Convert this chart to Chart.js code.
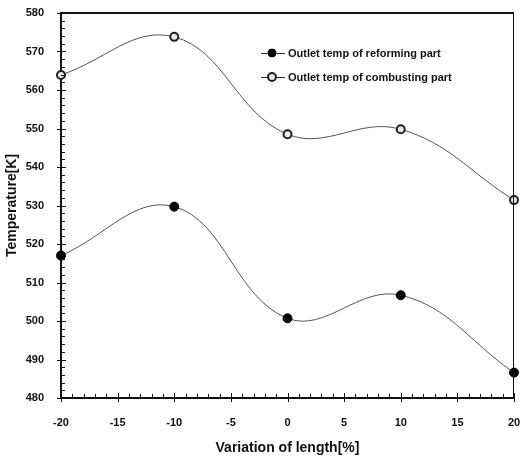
<!DOCTYPE html>
<html>
<head>
<meta charset="utf-8">
<script src="https://cdn.jsdelivr.net/npm/chart.js@4.4.0/dist/chart.umd.min.js"></script>
<style>
  html, body { margin: 0; padding: 0; background: #fff; }
  #wrap { width: 520px; height: 461px; }
</style>
</head>
<body>
<div id="wrap"><canvas id="line-chart"></canvas></div>
<script>
const lengthVariation = [-20, -10, 0, 10, 20]
const reformingTemp = [517, 529.7, 500.7, 506.7, 486.6]
const combustingTemp = [563.9, 573.8, 548.5, 549.8, 531.4]
const seriesLabels = ['Outlet temp of reforming part', 'Outlet temp of combusting part']

const FONT = '"Liberation Sans Narrow", "Liberation Sans", Arial, sans-serif'

function toPoints (ys) {
  return lengthVariation.map(function (x, i) { return { x: x, y: ys[i] } })
}

// minor/major ticks, frame and legend drawn over the chart
const decorPlugin = {
  id: 'decor',
  afterDraw: function (chart) {
    const c = chart.ctx
    const a = chart.chartArea
    const xs = chart.scales.x
    const ys = chart.scales.y
    c.save()
    c.strokeStyle = '#111'
    // frame top and right
    c.lineWidth = 2
    c.beginPath()
    c.moveTo(a.left, a.top)
    c.lineTo(a.right, a.top)
    c.stroke()
    c.lineWidth = 1
    c.beginPath()
    c.moveTo(a.right - 0.5, a.top)
    c.lineTo(a.right - 0.5, a.bottom)
    c.stroke()
    // y ticks
    c.beginPath()
    for (let v = 480; v <= 580; v += 2) {
      const py = Math.round(ys.getPixelForValue(v)) + 0.5
      if (v % 10 === 0) {
        c.moveTo(a.left - 4, py)
        c.lineTo(a.left + 5, py)
      } else {
        c.moveTo(a.left, py)
        c.lineTo(a.left + 4, py)
      }
    }
    // x ticks
    for (let v = -20; v <= 20; v += 1) {
      const px = Math.round(xs.getPixelForValue(v)) + 0.5
      if (v % 5 === 0) {
        c.moveTo(px, a.bottom + 4)
        c.lineTo(px, a.bottom - 5)
      } else {
        c.moveTo(px, a.bottom)
        c.lineTo(px, a.bottom - 4)
      }
    }
    c.stroke()

    // legend
    const rows = [53, 77]
    chart.data.datasets.forEach(function (ds, i) {
      const y = rows[i]
      c.strokeStyle = '#333'
      c.lineWidth = 1
      c.beginPath()
      c.moveTo(261, y + 0.5)
      c.lineTo(285, y + 0.5)
      c.stroke()
      c.beginPath()
      c.arc(272, y, 4, 0, Math.PI * 2)
      c.fillStyle = ds.pointBackgroundColor
      c.fill()
      c.lineWidth = ds.pointBorderWidth
      c.strokeStyle = ds.pointBorderColor
      c.stroke()
      c.fillStyle = '#111'
      c.font = 'bold 11px ' + FONT
      c.textBaseline = 'middle'
      c.textAlign = 'left'
      c.fillText(ds.label, 288, y + 1)
    })
    c.restore()
  },
}

const datasets = [
  {
    label: seriesLabels[0],
    data: toPoints(reformingTemp),
    borderColor: '#555',
    borderWidth: 1,
    tension: 0.4,
    pointRadius: 4.5,
    pointBackgroundColor: '#000',
    pointBorderColor: '#000',
    pointBorderWidth: 1,
    clip: false,
  },
  {
    label: seriesLabels[1],
    data: toPoints(combustingTemp),
    borderColor: '#555',
    borderWidth: 1,
    tension: 0.4,
    pointRadius: 4,
    pointBackgroundColor: '#e8e8e8',
    pointBorderColor: '#222',
    pointBorderWidth: 2,
    clip: false,
  },
]

const config = {
  type: 'line',
  data: { datasets: datasets },
  plugins: [decorPlugin],
  options: {
    responsive: true,
    maintainAspectRatio: false,
    animation: false,
    layout: { padding: { top: 13, right: 5, left: 0, bottom: 0 } },
    plugins: {
      legend: { display: false },
      tooltip: { enabled: false },
    },
    scales: {
      x: {
        type: 'linear',
        min: -20,
        max: 20,
        ticks: {
          stepSize: 5,
          color: '#111',
          padding: 10,
          font: { family: FONT, size: 11, weight: 'bold' },
          callback: function (v) { return v },
        },
        grid: { display: false },
        border: { display: true, color: '#111', width: 2 },
        title: {
          display: true,
          text: 'Variation of length[%]',
          color: '#111',
          padding: { top: 4 },
          font: { family: FONT, size: 14, weight: 'bold' },
        },
        afterFit: function (scale) {
          scale.height = 63
          scale.paddingLeft = 0
          scale.paddingRight = 0
        },
      },
      y: {
        min: 480,
        max: 580,
        ticks: {
          stepSize: 10,
          color: '#111',
          padding: 9,
          font: { family: FONT, size: 11, weight: 'bold' },
        },
        grid: { display: false },
        border: { display: true, color: '#111', width: 2 },
        title: {
          display: true,
          text: 'Temperature[K]',
          color: '#111',
          padding: { bottom: 4 },
          font: { family: FONT, size: 14, weight: 'bold' },
        },
        afterFit: function (scale) {
          scale.width = 61
          scale.paddingTop = 0
          scale.paddingBottom = 0
        },
      },
    },
  },
}

const ctx = document.getElementById('line-chart').getContext('2d')
const myChart = new Chart(ctx, config)
</script>
</body>
</html>
